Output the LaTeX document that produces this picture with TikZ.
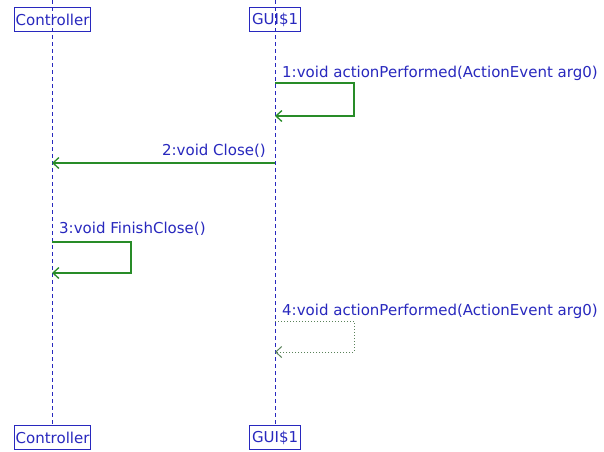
\documentclass[tikz,border=0pt]{standalone}
\usepackage{fontspec}
\setmainfont{DejaVu Sans}
\usetikzlibrary{arrows.meta}
\definecolor{umlblue}{RGB}{40,40,190}
\definecolor{msggreen}{RGB}{40,140,40}
\definecolor{asyncgreen}{RGB}{90,130,90}
\tikzset{
  lifebox/.style={draw=umlblue, line width=1.2pt, text=umlblue, inner sep=0pt,
    font=\fontsize{15}{15}\selectfont, minimum height=24pt, anchor=north west},
  lifeline/.style={draw=umlblue, line width=1pt, dash pattern=on 4pt off 3pt},
  msg/.style={draw=msggreen, line width=1.3pt, -{Straight Barb[length=6pt,width=11pt]}},
  asyncmsg/.style={draw=asyncgreen, line width=1pt, dotted, -{Straight Barb[length=6pt,width=11pt]}},
  msglabel/.style={text=umlblue, font=\fontsize{15}{15}\selectfont, inner sep=0pt}
}
\begin{document}
\begin{tikzpicture}[x=1pt, y=-1pt]
  \useasboundingbox[fill=white] (0,0) rectangle (604,451);

  % lifeline anchors
  \coordinate (ctop) at (52,0);
  \coordinate (cbot) at (52,425);
  \coordinate (gtop) at (275,0);
  \coordinate (gbot) at (275,425);
  \draw[lifeline] (ctop) -- (cbot);
  \draw[lifeline] (gtop) -- (gbot);

  % object boxes, top and bottom
  \node[lifebox, minimum width=76pt] (ctrlT) at (14,7) {Controller};
  \node[lifebox, minimum width=51pt] (guiT) at (249,7) {GUI\$1};
  \node[lifebox, minimum width=76pt] (ctrlB) at (14,425) {Controller};
  \node[lifebox, minimum width=51pt] (guiB) at (249,425) {GUI\$1};

  % 1: self call on GUI$1
  \coordinate (m1a) at (275,83);
  \coordinate (m1b) at (354,83);
  \coordinate (m1c) at (354,116);
  \coordinate (m1d) at (275,116);
  \draw[msg] (m1a) -- (m1b) -- (m1c) -- (m1d);
  \node[msglabel, anchor=base west] (l1) at (282,77) {1:void actionPerformed(ActionEvent arg0)};

  % 2: GUI$1 -> Controller
  \coordinate (m2a) at (275,163);
  \coordinate (m2b) at (52,163);
  \draw[msg] (m2a) -- (m2b);
  \node[msglabel, anchor=base east] (l2) at (266,155) {2:void Close()};

  % 3: self call on Controller
  \coordinate (m3a) at (52,242);
  \coordinate (m3b) at (131,242);
  \coordinate (m3c) at (131,273);
  \coordinate (m3d) at (52,273);
  \draw[msg] (m3a) -- (m3b) -- (m3c) -- (m3d);
  \node[msglabel, anchor=base west] (l3) at (59,233) {3:void FinishClose()};

  % 4: asynchronous self call on GUI$1
  \coordinate (m4a) at (275,321);
  \coordinate (m4b) at (354,321);
  \coordinate (m4c) at (354,352);
  \coordinate (m4d) at (275,352);
  \draw[asyncmsg] (m4a) -- (m4b) -- (m4c) -- (m4d);
  \node[msglabel, anchor=base west] (l4) at (282,315) {4:void actionPerformed(ActionEvent arg0)};
\end{tikzpicture}
\end{document}
